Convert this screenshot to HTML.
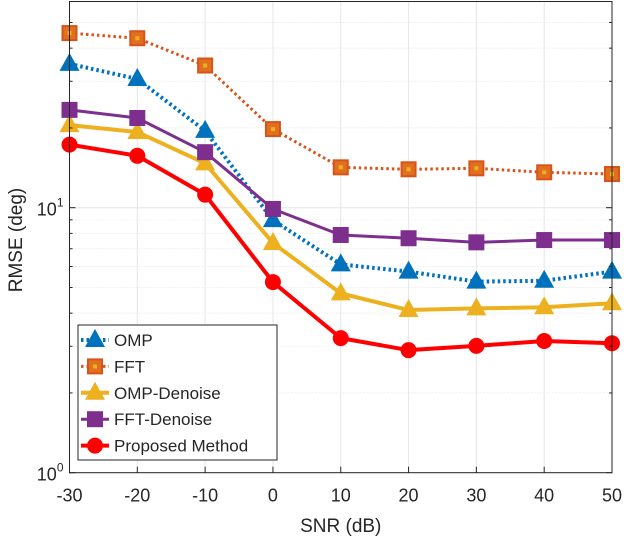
<!DOCTYPE html>
<html><head><meta charset="utf-8"><style>
html,body{margin:0;padding:0;background:#fff;}
svg text{font-family:"Liberation Sans",sans-serif;fill:#262626;}
</style></head><body>
<svg id="chart" width="624" height="540" xmlns="http://www.w3.org/2000/svg">
<rect width="624" height="540" fill="#fff"/>
<g id="grid"></g>
<g id="series"></g>
<g id="axes"></g>
<g id="legend"></g>
</svg>
<script>
const snr = [-30,-20,-10,0,10,20,30,40,50];
const omp = [34.9,30.6,19.5,8.98,6.11,5.74,5.26,5.3,5.74];
const fft = [45.6,43.6,34.4,19.8,14.2,13.96,14.08,13.6,13.4];
const ompDenoise = [20.5,19.3,14.7,7.36,4.75,4.11,4.17,4.21,4.36];
const fftDenoise = [23.4,21.8,16.2,9.89,7.89,7.67,7.4,7.55,7.55];
const proposed = [17.3,15.7,11.2,5.24,3.22,2.9,3.01,3.14,3.08];
const xTicks = [-30,-20,-10,0,10,20,30,40,50];
const names = ["OMP","FFT","OMP-Denoise","FFT-Denoise","Proposed Method"];

const NS="http://www.w3.org/2000/svg";
const L=69.5,R=612,T=1.5,B=472.7,DEC=265;
const x=v=>L+(v+30)/80*(R-L);
const y=v=>B-Math.log10(v)*DEC;
function mk(tag,attrs,parent){const e=document.createElementNS(NS,tag);for(const k in attrs)e.setAttribute(k,attrs[k]);parent.appendChild(e);return e;}
const grid=document.getElementById('grid'),axes=document.getElementById('axes'),ser=document.getElementById('series'),leg=document.getElementById('legend');

xTicks.forEach(t=>{const l=mk('line',{x1:x(t),x2:x(t),y1:T,y2:B,stroke:'#e6e6e6','stroke-width':1},grid);

});
for(let d=0;d<2;d++)for(let m=1;m<10;m++){const v=m*Math.pow(10,d);const yy=y(v);if(yy<T)continue;
const l=mk('line',{x1:L,x2:R,y1:yy,y2:yy,stroke:m==1?'#e6e6e6':'#e3e3e3','stroke-width':1,'stroke-dasharray':m==1?'':'1,2'},grid);


const tl=mk('line',{x1:L,x2:L+(m==1?6:3),y1:yy,y2:yy,stroke:'#262626'},axes);


const tr=mk('line',{x1:R,x2:R-(m==1?6:3),y1:yy,y2:yy,stroke:'#262626'},axes);

}

const box=mk('rect',{x:L,y:T,width:R-L,height:B-T,fill:'none',stroke:'#262626','stroke-width':1},axes);


xTicks.forEach(t=>{
const tk=mk('line',{x1:x(t),x2:x(t),y1:B,y2:B-6,stroke:'#262626'},axes);


const tx=mk('text',{x:x(t),y:B+29,'text-anchor':'middle','font-size':18},axes);tx.textContent=t;

});
[[1,'0'],[10,'1']].forEach(([v,e])=>{const t=mk('text',{x:L-6,y:y(v)+8,'text-anchor':'end','font-size':18},axes);
t.innerHTML='10<tspan dy="-9" font-size="12">'+e+'</tspan>';

});
const xl=mk('text',{x:(L+R)/2,y:532,'text-anchor':'middle','font-size':19},axes);xl.textContent='SNR (dB)';


const yl=mk('text',{x:0,y:0,'text-anchor':'middle','font-size':19,transform:'translate(22,240) rotate(-90)'},axes);yl.textContent='RMSE (deg)';



const styles=[
{c:'#0072BD',dash:'2.5,3',m:'tri',w:4},
{c:'#D95319',dash:'2.5,3',m:'sq',w:3},
{c:'#EDB120',dash:'',m:'tri',w:4},
{c:'#7E2F8E',dash:'',m:'sq',w:3},
{c:'#FF0000',dash:'',m:'circ',w:4}];
const data=[omp,fft,ompDenoise,fftDenoise,proposed];
function marker(g,kind,cx,cy,c){let e;
if(kind=='tri')e=mk('polygon',{points:`${cx},${cy-11} ${cx-10},${cy+7} ${cx+10},${cy+7}`,fill:c},g);
else if(kind=='sq'){e=mk('rect',{x:cx-7,y:cy-7,width:14,height:14,fill:c=='#D95319'?'#E07020':c,stroke:c,'stroke-width':2},g);
if(c=='#D95319')mk('rect',{x:cx-2,y:cy-2,width:4,height:4,fill:'#EDB120'},g);}
else e=mk('circle',{cx:cx,cy:cy,r:8,fill:c},g);return e;}
data.forEach((d,i)=>{const s=styles[i];const g=mk('g',{},ser);


const pl=mk('polyline',{points:d.map((v,j)=>x(snr[j])+','+y(v)).join(' '),fill:'none',stroke:s.c,'stroke-width':s.w,'stroke-dasharray':s.dash,'stroke-linejoin':'round'},g);


d.forEach((v,j)=>{const m=marker(g,s.m,x(snr[j]),y(v),s.c);

});});

const lb=mk('rect',{x:78,y:325,width:199,height:135,fill:'#fff',stroke:'#262626','stroke-width':1},leg);


names.forEach((n,i)=>{const s=styles[i];const yy=340+i*26.4;const g=mk('g',{},leg);


mk('line',{x1:81,x2:109,y1:yy,y2:yy,stroke:s.c,'stroke-width':s.w,'stroke-dasharray':s.dash},g);
marker(g,s.m,95,yy,s.c);
const t=mk('text',{x:114,y:yy+6,'font-size':17},g);t.textContent=n;});
</script>
</body></html>
